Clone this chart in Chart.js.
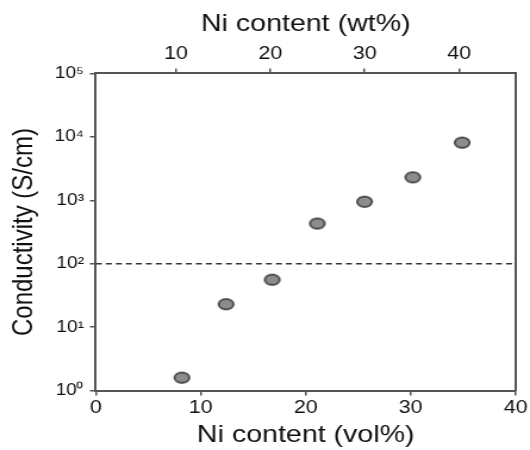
<!DOCTYPE html>
<html>
<head>
<meta charset="utf-8">
<script src="https://cdn.jsdelivr.net/npm/chart.js@4/dist/chart.umd.min.js"></script>
<style>
  html, body { margin: 0; padding: 0; background: #fff; overflow: hidden; }
  /* the reference figure is stretched sideways, so draw narrow and stretch */
  #wrap { width: 445px; height: 450px; transform: scaleX(1.191); transform-origin: 0 0; }
</style>
</head>
<body>
<div id="wrap"><canvas id="cond-chart"></canvas></div>
<script>
// data
const volContent = [8.2, 12.4, 16.8, 21.1, 25.6, 30.2, 34.9]
const conductivity = [1.6, 23, 56, 430, 950, 2300, 8100]
const volTicks = [0, 10, 20, 30, 40]
const wtTicks = [10, 20, 30, 40]
const wtRange = [1.5, 46]
const decadeTicks = [1, 10, 100, 1000, 10000, 100000]
const percolationLevel = 100

const sup = ["⁰", "¹", "²", "³", "⁴", "⁵", "⁶"]
const fontFamily = "'Liberation Sans', Arial, sans-serif"
const axisColor = "#555"

// ellipse marker
const marker = document.createElement("canvas")
marker.width = 16
marker.height = 14
let mctx = marker.getContext("2d")
mctx.beginPath()
mctx.ellipse(8, 7, 6.3, 5.3, 0, 0, Math.PI * 2)
mctx.fillStyle = "#8c8c8c"
mctx.fill()
mctx.lineWidth = 1.4
mctx.strokeStyle = "#2a2a2a"
mctx.stroke()

const points = volContent.map((v, i) => ({ x: v, y: conductivity[i] }))

let condChart = new Chart(document.getElementById("cond-chart"), {
  type: 'scatter',
  data: {
    datasets: [
      {
        label: "Conductivity",
        data: points,
        pointStyle: marker,
        pointRadius: 7,
        order: 1
      },
      {
        type: 'line',
        label: "threshold",
        data: [{ x: volTicks[0], y: percolationLevel }, { x: volTicks[volTicks.length - 1], y: percolationLevel }],
        borderColor: "#333",
        borderWidth: 1.5,
        borderDash: [5, 3.4],
        pointRadius: 0,
        fill: false,
        order: 2
      }
    ]
  },
  options: {
    responsive: true,
    maintainAspectRatio: false,
    animation: false,
    layout: { padding: { left: 6, right: 10, top: 10, bottom: 0 } },
    plugins: {
      legend: { display: false },
      tooltip: { enabled: false }
    },
    scales: {
      x: {
        type: 'linear',
        position: 'bottom',
        min: volTicks[0],
        max: volTicks[volTicks.length - 1],
        afterBuildTicks: (scale) => { scale.ticks = volTicks.map(v => ({ value: v })) },
        ticks: { color: "#111", padding: 2, maxRotation: 0, font: { family: fontFamily, size: 18 } },
        grid: { drawOnChartArea: false, drawTicks: true, tickLength: 5, color: axisColor, lineWidth: 1.5 },
        border: { display: true, color: axisColor, width: 2 },
        title: { display: true, text: "Ni content (vol%)", color: "#111", padding: { top: 0, bottom: 0 }, font: { family: fontFamily, size: 24 } }
      },
      x2: {
        type: 'linear',
        position: 'top',
        min: wtRange[0],
        max: wtRange[1],
        afterBuildTicks: (scale) => { scale.ticks = wtTicks.map(v => ({ value: v })) },
        ticks: { color: "#111", padding: 4, maxRotation: 0, font: { family: fontFamily, size: 18 } },
        grid: { drawOnChartArea: false, drawTicks: true, tickLength: 5, color: axisColor, lineWidth: 1.5 },
        border: { display: true, color: axisColor, width: 2 },
        title: { display: true, text: "Ni content (wt%)", color: "#111", padding: { top: 0, bottom: 0 }, font: { family: fontFamily, size: 24 } }
      },
      y: {
        type: 'logarithmic',
        position: 'left',
        min: decadeTicks[0],
        max: decadeTicks[decadeTicks.length - 1],
        afterBuildTicks: (scale) => { scale.ticks = decadeTicks.map(v => ({ value: v })) },
        ticks: {
          color: "#111",
          padding: 5,
          font: { family: fontFamily, size: 16 },
          callback: (value) => "10" + sup[Math.round(Math.log10(value))]
        },
        grid: { drawOnChartArea: false, drawTicks: true, tickLength: 5, color: axisColor, lineWidth: 1.5 },
        border: { display: true, color: axisColor, width: 2 },
        title: { display: true, text: "Conductivity (S/cm)", color: "#111", padding: { top: 0, bottom: 6 }, font: { family: fontFamily, size: 24 } }
      },
      y2: {
        type: 'logarithmic',
        position: 'right',
        min: decadeTicks[0],
        max: decadeTicks[decadeTicks.length - 1],
        ticks: { display: false },
        grid: { drawOnChartArea: false, drawTicks: false },
        border: { display: true, color: axisColor, width: 2 }
      }
    }
  }
})
</script>
</body>
</html>
